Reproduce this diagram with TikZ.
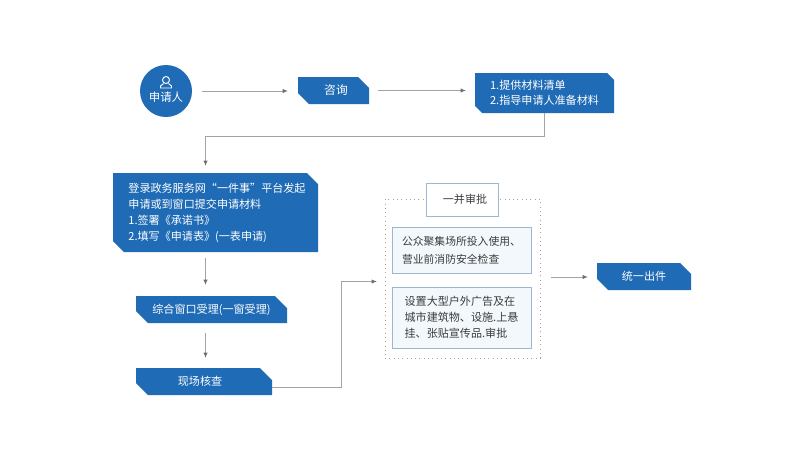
\documentclass[tikz,border=0pt]{standalone}
\usepackage{fontspec}
\setmainfont{Noto Sans CJK SC}
\usepackage{tikz}
\usetikzlibrary{arrows.meta}
\definecolor{flowblue}{HTML}{1F6BB5}
\definecolor{flowline}{HTML}{A3A3A3}
\definecolor{flowtip}{HTML}{6E6E6E}
\definecolor{paleedge}{HTML}{9FB6CE}
\definecolor{palefill}{HTML}{F3F8FC}
\definecolor{paletext}{HTML}{3C3C3C}
\tikzset{
blockbox/.style n args={3}{rectangle,minimum width=#1*0.02cm,minimum height=#2*0.02cm,inner sep=0pt,outer sep=0pt,
 path picture={\fill[flowblue] (path picture bounding box.north west)
  -- ([xshift=-#3*0.02cm]path picture bounding box.north east)
  -- ([yshift=-#3*0.02cm]path picture bounding box.north east)
  -- (path picture bounding box.south east)
  -- ([xshift=#3*0.02cm]path picture bounding box.south west)
  -- ([yshift=#3*0.02cm]path picture bounding box.south west) -- cycle;},
 text=white,align=left,font=\fontsize{6.3}{9.1}\selectfont},
palebox/.style 2 args={rectangle,draw=paleedge,fill=palefill,text=paletext,line width=0.4pt,
 minimum width=#1*0.02cm,minimum height=#2*0.02cm,inner sep=0pt,outer sep=0pt,align=left,
 font=\fontsize{6.3}{9.1}\selectfont},
link/.style={draw=flowline,line width=0.55pt,-{Latex[length=3pt,width=2.4pt,color=flowtip]}},
}

\begin{document}
\begin{tikzpicture}[x=0.02cm,y=-0.02cm]
\useasboundingbox (0,0) rectangle (800,454);
% first row
\node[circle,fill=flowblue,minimum size=52*0.02cm,inner sep=0pt,outer sep=0pt] (applicant) at (166,91) {};
\node[text=white,inner sep=0pt,font=\fontsize{6.5}{8}\selectfont] (applicantname) at (166,97.5) {申请人};
\draw[white,line width=0.55pt] (166,80) circle (3.5);
\draw[white,line width=0.55pt] (163.5,83.5) -- (160.5,86) -- (160.5,88) -- (171.5,88) -- (171.5,86) -- (168.5,83.5);
\node[blockbox={71}{27}{11},font=\fontsize{6.7}{9.1}\selectfont] (consult) at (333.5,90.5) {\kern0.1cm 咨询};
\node[blockbox={139}{40}{7},font=\fontsize{6.3}{8.6}\selectfont] (materials) at (544.5,93) {1.提供材料清单\\2.指导申请人准备材料};
% left column
\node[blockbox={205}{79}{11}] (submit) at (215.5,212.5) {\kern0.06cm 登录政务服务网“一件事”平台发起\\\kern0.06cm 申请或到窗口提交申请材料\\\kern0.06cm 1.签署《承诺书》\\\kern0.06cm 2.填写《申请表》(一表申请)};
\node[blockbox={151}{27}{12}] (accept) at (211.5,309.5) {综合窗口受理(一窗受理)};
\node[blockbox={136}{27}{12}] (inspect) at (204,381.5) {现场核查\kern0.16cm};
% approval group
\node[rectangle,draw=flowline,dotted,line width=0.45pt,minimum width=155*0.02cm,minimum height=159*0.02cm,inner sep=0pt,outer sep=0pt] (group) at (462.5,278.5) {};
\node[palebox={72}{33},fill=white] (title) at (462,199.5) {\kern0.12cm 一并审批};
\node[palebox={139}{46},font=\fontsize{6.15}{10.2}\selectfont] (fire) at (461.5,250) {公众聚集场所投入使用、\\营业前消防安全检查};
\node[palebox={139}{61}] (advert) at (461.5,317.5) {设置大型户外广告及在\\城市建筑物、设施.上悬\\挂、张贴宣传品.审批};
\node[blockbox={94}{27}{11}] (result) at (644,276.5) {统一出件};
% connectors
\coordinate (bendin) at (205.5,173);
\coordinate (bendout) at (272,387);
\coordinate (bendgroup) at (385,281.5);
\coordinate (submitout) at (205.5,252);
\coordinate (acceptin) at (205.5,296);
\coordinate (acceptout) at (205.5,323);
\coordinate (inspectin) at (205.5,368);
\coordinate (groupout) at (540,277);
\coordinate (resultin) at (597,277);
\draw[link,shorten <=10*0.02cm,shorten >=10*0.02cm] (applicant.east) -- (consult.west |- applicant.east);
\draw[link,shorten <=9*0.02cm,shorten >=9*0.02cm] (consult.east) -- (materials.west |- consult.east);
\draw[link,shorten >=7*0.02cm] (materials.south) -- (544.5,136) -- (205.5,136) -- (bendin);
\draw[link,shorten <=6*0.02cm,shorten >=11*0.02cm] (submitout) -- (acceptin);
\draw[link,shorten <=10*0.02cm,shorten >=10*0.02cm] (acceptout) -- (inspectin);
\draw[link,shorten >=8*0.02cm] (bendout) -- (341,387) -- (341,281.5) -- (bendgroup);
\draw[link,shorten <=11*0.02cm,shorten >=9*0.02cm] (groupout) -- (resultin);
\end{tikzpicture}
\end{document}
